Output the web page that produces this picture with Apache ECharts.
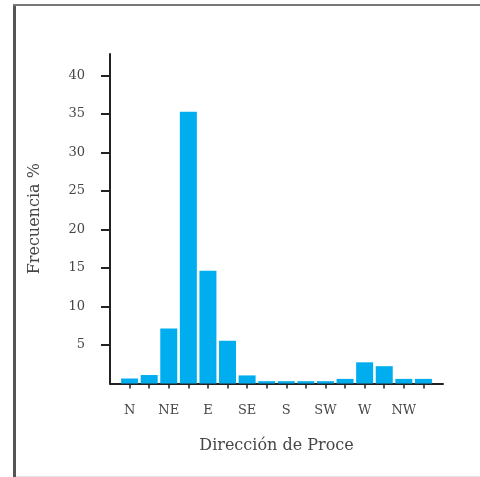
<!DOCTYPE html>
<html>
<head>
<meta charset="utf-8">
<script src="https://cdn.jsdelivr.net/npm/echarts@6/dist/echarts.min.js"></script>
<style>
  html, body { margin: 0; padding: 0; background: #fff; }
  #chart { width: 480px; height: 477px; }
</style>
</head>
<body>
<div id="chart"></div>
<script>
// Wind direction sectors (16-point compass)
const directions = ['N', 'NNE', 'NE', 'ENE', 'E', 'ESE', 'SE', 'SSE',
                    'S', 'SSW', 'SW', 'WSW', 'W', 'WNW', 'NW', 'NNW'];
// Frequency (%) per sector
const frequency = [0.65, 1.1, 7.15, 35.3, 14.65, 5.55, 1.05, 0.3,
                   0.3, 0.3, 0.3, 0.6, 2.75, 2.25, 0.6, 0.6];
// Sectors that carry a label on the horizontal axis
const labelledDirections = ['N', 'NE', 'E', 'SE', 'S', 'SW', 'W', 'NW'];
// Vertical axis tick values
const yTicks = [5, 10, 15, 20, 25, 30, 35, 40];

const textColor = '#474747';
const axisColor = '#222';
const serif = '"DejaVu Serif", "Liberation Serif", serif';

const chart = echarts.init(document.getElementById('chart'), null, { renderer: 'canvas' });

const sectorIndex = directions.map((d, i) => i);
const labelIndex = labelledDirections.map(d => directions.indexOf(d));

chart.setOption({
  animation: false,
  backgroundColor: '#fff',
  grid: { left: 110, right: 37, top: 54, bottom: 93.5 },
  xAxis: {
    type: 'value',
    min: -1,
    max: directions.length,
    name: 'Dirección de Proce',
    nameLocation: 'middle',
    nameGap: 54,
    nameTextStyle: { fontFamily: serif, fontSize: 16, color: textColor },
    splitLine: { show: false },
    axisLine: { show: true, onZero: false, lineStyle: { color: axisColor, width: 2 } },
    axisTick: {
      show: true,
      inside: false,
      length: 5,
      customValues: sectorIndex,
      lineStyle: { color: axisColor, width: 1.5 }
    },
    axisLabel: {
      customValues: labelIndex,
      margin: 21,
      fontFamily: serif,
      fontSize: 13,
      color: textColor,
      formatter: v => directions[Math.round(v)] || ''
    }
  },
  yAxis: {
    type: 'value',
    min: 0,
    max: 42.8,
    name: 'Frecuencia %',
    nameLocation: 'middle',
    nameGap: 67,
    nameRotate: 90,
    nameTextStyle: { fontFamily: serif, fontSize: 16, color: textColor },
    splitLine: { show: false },
    axisLine: { show: true, onZero: false, lineStyle: { color: axisColor, width: 2 } },
    axisTick: {
      show: true,
      inside: false,
      length: 9,
      customValues: yTicks,
      lineStyle: { color: axisColor, width: 2 }
    },
    axisLabel: {
      customValues: yTicks,
      margin: 25,
      fontFamily: serif,
      fontSize: 13,
      color: textColor
    }
  },
  series: [{
    type: 'bar',
    barWidth: 17,
    itemStyle: { color: '#00AEEF' },
    data: frequency.map((v, i) => [i, v])
  }],
  graphic: [
    { type: 'line', shape: { x1: 14.5, y1: 5, x2: 14.5, y2: 477 },
      style: { stroke: '#555', lineWidth: 3 } },
    { type: 'line', shape: { x1: 13, y1: 5, x2: 480, y2: 5 },
      style: { stroke: '#777', lineWidth: 2 } },
    { type: 'line', shape: { x1: 16, y1: 476.5, x2: 480, y2: 476.5 },
      style: { stroke: '#e2e2e2', lineWidth: 1 } }
  ]
});
</script>
</body>
</html>
